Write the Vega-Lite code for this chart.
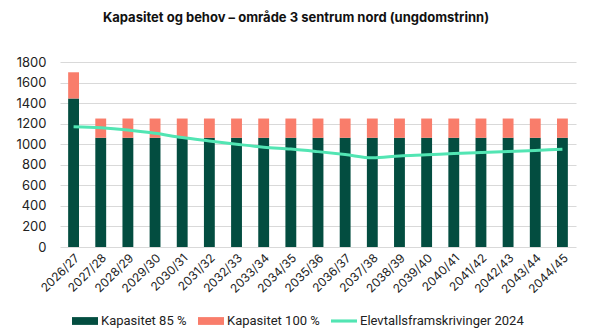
{
  "$schema": "https://vega.github.io/schema/vega-lite/v6.json",
  "width": 516,
  "height": 185,
  "padding": {"left": 15, "top": 12, "right": 18, "bottom": 5},
  "background": "white",
  "title": {
    "text": "Kapasitet og behov – område 3 sentrum nord (ungdomstrinn)",
    "fontSize": 13,
    "font": "Inter",
    "fontWeight": "bold",
    "anchor": "middle",
    "frame": "bounds",
    "offset": 28,
    "dy": -3,
    "color": "#111111"
  },
  "config": {
    "view": {"stroke": null},
    "font": "Inter"
  },
  "datasets": {
    "kap": [
      {"skoleaar": "2026/27", "serie": "Kapasitet 85 %", "elever": 1445},
      {"skoleaar": "2026/27", "serie": "Kapasitet 100 %", "elever": 255},
      {"skoleaar": "2027/28", "serie": "Kapasitet 85 %", "elever": 1062.5},
      {"skoleaar": "2027/28", "serie": "Kapasitet 100 %", "elever": 187.5},
      {"skoleaar": "2028/29", "serie": "Kapasitet 85 %", "elever": 1062.5},
      {"skoleaar": "2028/29", "serie": "Kapasitet 100 %", "elever": 187.5},
      {"skoleaar": "2029/30", "serie": "Kapasitet 85 %", "elever": 1062.5},
      {"skoleaar": "2029/30", "serie": "Kapasitet 100 %", "elever": 187.5},
      {"skoleaar": "2030/31", "serie": "Kapasitet 85 %", "elever": 1062.5},
      {"skoleaar": "2030/31", "serie": "Kapasitet 100 %", "elever": 187.5},
      {"skoleaar": "2031/32", "serie": "Kapasitet 85 %", "elever": 1062.5},
      {"skoleaar": "2031/32", "serie": "Kapasitet 100 %", "elever": 187.5},
      {"skoleaar": "2032/33", "serie": "Kapasitet 85 %", "elever": 1062.5},
      {"skoleaar": "2032/33", "serie": "Kapasitet 100 %", "elever": 187.5},
      {"skoleaar": "2033/34", "serie": "Kapasitet 85 %", "elever": 1062.5},
      {"skoleaar": "2033/34", "serie": "Kapasitet 100 %", "elever": 187.5},
      {"skoleaar": "2034/35", "serie": "Kapasitet 85 %", "elever": 1062.5},
      {"skoleaar": "2034/35", "serie": "Kapasitet 100 %", "elever": 187.5},
      {"skoleaar": "2035/36", "serie": "Kapasitet 85 %", "elever": 1062.5},
      {"skoleaar": "2035/36", "serie": "Kapasitet 100 %", "elever": 187.5},
      {"skoleaar": "2036/37", "serie": "Kapasitet 85 %", "elever": 1062.5},
      {"skoleaar": "2036/37", "serie": "Kapasitet 100 %", "elever": 187.5},
      {"skoleaar": "2037/38", "serie": "Kapasitet 85 %", "elever": 1062.5},
      {"skoleaar": "2037/38", "serie": "Kapasitet 100 %", "elever": 187.5},
      {"skoleaar": "2038/39", "serie": "Kapasitet 85 %", "elever": 1062.5},
      {"skoleaar": "2038/39", "serie": "Kapasitet 100 %", "elever": 187.5},
      {"skoleaar": "2039/40", "serie": "Kapasitet 85 %", "elever": 1062.5},
      {"skoleaar": "2039/40", "serie": "Kapasitet 100 %", "elever": 187.5},
      {"skoleaar": "2040/41", "serie": "Kapasitet 85 %", "elever": 1062.5},
      {"skoleaar": "2040/41", "serie": "Kapasitet 100 %", "elever": 187.5},
      {"skoleaar": "2041/42", "serie": "Kapasitet 85 %", "elever": 1062.5},
      {"skoleaar": "2041/42", "serie": "Kapasitet 100 %", "elever": 187.5},
      {"skoleaar": "2042/43", "serie": "Kapasitet 85 %", "elever": 1062.5},
      {"skoleaar": "2042/43", "serie": "Kapasitet 100 %", "elever": 187.5},
      {"skoleaar": "2043/44", "serie": "Kapasitet 85 %", "elever": 1062.5},
      {"skoleaar": "2043/44", "serie": "Kapasitet 100 %", "elever": 187.5},
      {"skoleaar": "2044/45", "serie": "Kapasitet 85 %", "elever": 1062.5},
      {"skoleaar": "2044/45", "serie": "Kapasitet 100 %", "elever": 187.5}
    ],
    "elev": [
      {"skoleaar": "2026/27", "serie": "Elevtallsframskrivinger 2024", "elever": 1170},
      {"skoleaar": "2027/28", "serie": "Elevtallsframskrivinger 2024", "elever": 1161},
      {"skoleaar": "2028/29", "serie": "Elevtallsframskrivinger 2024", "elever": 1139},
      {"skoleaar": "2029/30", "serie": "Elevtallsframskrivinger 2024", "elever": 1106},
      {"skoleaar": "2030/31", "serie": "Elevtallsframskrivinger 2024", "elever": 1065},
      {"skoleaar": "2031/32", "serie": "Elevtallsframskrivinger 2024", "elever": 1032},
      {"skoleaar": "2032/33", "serie": "Elevtallsframskrivinger 2024", "elever": 1000},
      {"skoleaar": "2033/34", "serie": "Elevtallsframskrivinger 2024", "elever": 971},
      {"skoleaar": "2034/35", "serie": "Elevtallsframskrivinger 2024", "elever": 953},
      {"skoleaar": "2035/36", "serie": "Elevtallsframskrivinger 2024", "elever": 928},
      {"skoleaar": "2036/37", "serie": "Elevtallsframskrivinger 2024", "elever": 900},
      {"skoleaar": "2037/38", "serie": "Elevtallsframskrivinger 2024", "elever": 868},
      {"skoleaar": "2038/39", "serie": "Elevtallsframskrivinger 2024", "elever": 886},
      {"skoleaar": "2039/40", "serie": "Elevtallsframskrivinger 2024", "elever": 897},
      {"skoleaar": "2040/41", "serie": "Elevtallsframskrivinger 2024", "elever": 910},
      {"skoleaar": "2041/42", "serie": "Elevtallsframskrivinger 2024", "elever": 920},
      {"skoleaar": "2042/43", "serie": "Elevtallsframskrivinger 2024", "elever": 930},
      {"skoleaar": "2043/44", "serie": "Elevtallsframskrivinger 2024", "elever": 940},
      {"skoleaar": "2044/45", "serie": "Elevtallsframskrivinger 2024", "elever": 950}
    ]
  },
  "encoding": {
    "x": {
      "field": "skoleaar",
      "type": "ordinal",
      "sort": null,
      "scale": {"paddingInner": 0, "paddingOuter": 0},
      "axis": {
        "title": null,
        "labelAngle": -45,
        "labelFontSize": 12,
        "labelColor": "#222222",
        "labelPadding": 5,
        "domain": false,
        "ticks": false
      }
    },
    "y": {
      "field": "elever",
      "type": "quantitative",
      "scale": {"domain": [0, 1800]},
      "axis": {
        "title": null,
        "format": "d",
        "values": [0, 200, 400, 600, 800, 1000, 1200, 1400, 1600, 1800],
        "labelFontSize": 13,
        "labelColor": "#222222",
        "labelPadding": 14,
        "domain": false,
        "ticks": false,
        "gridColor": "#d9d9d9"
      }
    },
    "color": {
      "field": "serie",
      "type": "nominal",
      "scale": {
        "domain": ["Kapasitet 85 %", "Kapasitet 100 %", "Elevtallsframskrivinger 2024"],
        "range": ["#034d40", "#f97d6b", "#52e5b3"]
      },
      "legend": {
        "title": null,
        "orient": "none",
        "legendX": 12,
        "legendY": 246,
        "direction": "horizontal",
        "labelFontSize": 13,
        "labelLimit": 300,
        "labelColor": "#222222",
        "labelFont": "Roboto",
        "symbolSize": 676,
        "symbolStrokeWidth": 0,
        "columnPadding": 11,
        "labelOffset": 3,
        "encode": {
          "symbols": {
            "update": {
              "shape": {"signal": "datum.value === 'Elevtallsframskrivinger 2024' ? 'M-1,-0.12H1V0.12H-1Z' : 'M-1,-0.3H1V0.3H-1Z'"}
            }
          }
        }
      }
    }
  },
  "layer": [
    {
      "data": {"name": "kap"},
      "mark": {"type": "bar", "width": {"band": 0.4}},
      "encoding": {
        "order": {"field": "serie", "sort": "descending"}
      }
    },
    {
      "data": {"name": "elev"},
      "mark": {"type": "line", "strokeWidth": 3, "interpolate": "monotone"}
    }
  ]
}
